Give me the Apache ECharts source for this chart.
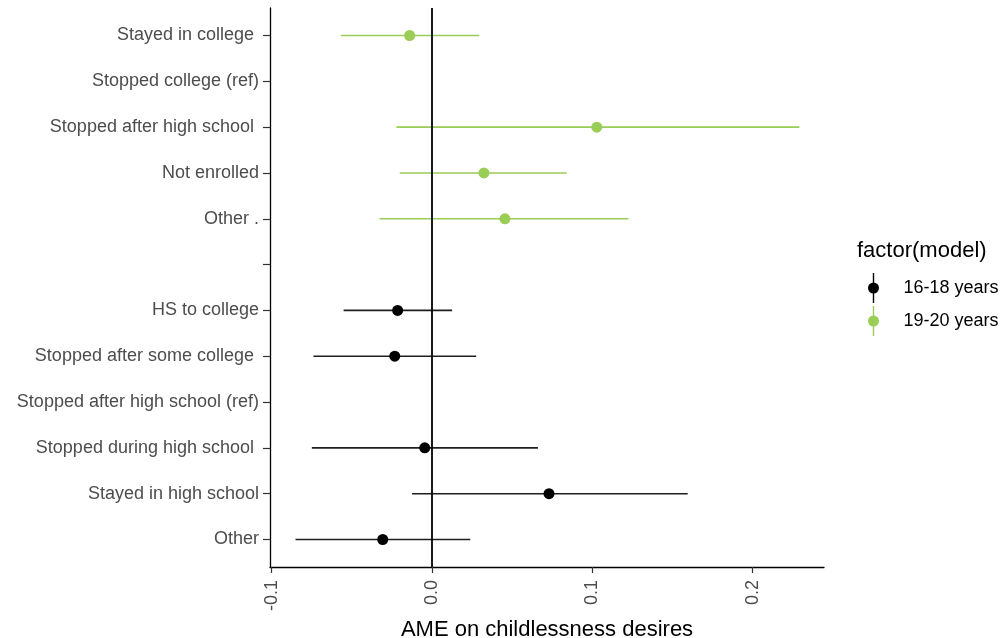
<!DOCTYPE html>
<html>
<head>
<meta charset="utf-8">
<title>AME on childlessness desires</title>
<script src="https://cdn.jsdelivr.net/npm/echarts@6/dist/echarts.min.js"></script>
<style>
  html, body { margin: 0; padding: 0; background: #ffffff; }
  #chart { width: 1000px; height: 638px; }
</style>
</head>
<body>
<div id="chart"></div>
<script>
// Row labels, top to bottom (row 5 is an empty spacer between the two blocks)
const categories = [
  'Stayed in college ',
  'Stopped college (ref)',
  'Stopped after high school ',
  'Not enrolled',
  'Other .',
  '',
  'HS to college',
  'Stopped after some college ',
  'Stopped after high school (ref)',
  'Stopped during high school ',
  'Stayed in high school',
  'Other'
];

const seriesNames = ['16-18 years', '19-20 years'];

// Estimates with lower / upper confidence bounds; each row: [row index, estimate, low, high]
const model1618 = [
  [6, -0.0214, -0.0551, 0.0126],
  [7, -0.0232, -0.0739, 0.0276],
  [9, -0.0045, -0.0749, 0.0661],
  [10, 0.0730, -0.0124, 0.1595],
  [11, -0.0307, -0.0851, 0.0239]
];
const model1920 = [
  [0, -0.0139, -0.0568, 0.0295],
  [2, 0.1028, -0.0222, 0.2291],
  [3, 0.0324, -0.0201, 0.0841],
  [4, 0.0455, -0.0326, 0.1226]
];

const xTicks = [-0.1, 0.0, 0.1, 0.2];
const xTickLabels = ['-0.1', '0.0', '0.1', '0.2'];

const colors = ['#000000', '#9acd55'];
const barColors = ['#1f1f1f', '#9acd55'];

const font = '"Liberation Sans", Arial, sans-serif';
const rowIndices = categories.map((_, i) => i);

// Legend glyph: a vertical range line crossed by a dot
const pointRangeIcon = 'path://M5.3,0 L6.7,0 L6.7,30 L5.3,30 Z M6,9.5 A5.5,5.5 0 1,1 6,20.5 A5.5,5.5 0 1,1 6,9.5 Z';

function rangeSeries(name, rows, color) {
  return {
    name: name,
    type: 'custom',
    data: rows.map(r => [r[2], r[3], r[0]]),
    encode: { x: [0, 1], y: 2 },
    renderItem: function (params, api) {
      const a = api.coord([api.value(0), api.value(2)]);
      const b = api.coord([api.value(1), api.value(2)]);
      return {
        type: 'line',
        shape: { x1: a[0], y1: a[1], x2: b[0], y2: b[1] },
        style: { stroke: color, lineWidth: 1.6 }
      };
    },
    silent: true,
    z: 2
  };
}

function pointSeries(name, rows, color) {
  return {
    name: name,
    type: 'scatter',
    data: rows.map(r => [r[1], r[0]]),
    symbol: 'circle',
    symbolSize: 11,
    itemStyle: { color: color, opacity: 1 },
    z: 3
  };
}

const chart = echarts.init(document.getElementById('chart'), null, { renderer: 'canvas' });

chart.setOption({
  animation: false,
  backgroundColor: '#ffffff',
  textStyle: { fontFamily: font },
  grid: { left: 270, right: 176, top: 8, bottom: 71, containLabel: false, outerBoundsMode: 'none' },
  xAxis: {
    type: 'value',
    min: -0.101,
    max: 0.2445,
    name: 'AME on childlessness desires',
    nameLocation: 'middle',
    nameGap: 50,
    nameTextStyle: { fontFamily: font, fontSize: 22, color: '#000000' },
    axisLine: { show: true, onZero: false, lineStyle: { color: '#000000', width: 1.3 } },
    axisTick: { show: true, length: 6, lineStyle: { color: '#333333', width: 1.2 }, customValues: xTicks },
    axisLabel: {
      rotate: 90,
      margin: 13,
      fontFamily: font,
      fontSize: 18,
      color: '#4d4d4d',
      customValues: xTicks,
      formatter: function (v) {
        const i = xTicks.findIndex(t => Math.abs(t - v) < 1e-9);
        return i >= 0 ? xTickLabels[i] : '';
      }
    },
    splitLine: { show: false }
  },
  yAxis: {
    type: 'value',
    inverse: true,
    min: -0.6,
    max: 11.6,
    axisLine: { show: true, onZero: false, lineStyle: { color: '#000000', width: 1.3 } },
    axisTick: { show: true, length: 7, lineStyle: { color: '#333333', width: 1.2 }, customValues: rowIndices },
    axisLabel: {
      margin: 11,
      fontFamily: font,
      fontSize: 18,
      color: '#4d4d4d',
      customValues: rowIndices,
      formatter: function (v) {
        const i = Math.round(v);
        return categories[i] !== undefined ? categories[i] : '';
      }
    },
    splitLine: { show: false }
  },
  legend: {
    orient: 'vertical',
    left: 868,
    top: 273,
    padding: 0,
    itemWidth: 50,
    itemHeight: 30,
    itemGap: 3,
    symbolKeepAspect: true,
    textStyle: { fontFamily: font, fontSize: 18, color: '#000000' },
    data: [
      { name: seriesNames[0], icon: pointRangeIcon },
      { name: seriesNames[1], icon: pointRangeIcon }
    ]
  },
  graphic: [
    {
      type: 'text',
      left: 857,
      top: 240,
      style: { text: 'factor(model)', font: '22px ' + font, fill: '#000000' }
    }
  ],
  series: [
    pointSeries(seriesNames[0], model1618, colors[0]),
    pointSeries(seriesNames[1], model1920, colors[1]),
    Object.assign(rangeSeries(seriesNames[0], model1618, barColors[0]), {
      markLine: {
        silent: true,
        symbol: ['none', 'none'],
        label: { show: false },
        lineStyle: { color: '#000000', width: 1.8, type: 'solid' },
        data: [{ xAxis: 0 }]
      }
    }),
    rangeSeries(seriesNames[1], model1920, barColors[1])
  ]
});
</script>
</body>
</html>
